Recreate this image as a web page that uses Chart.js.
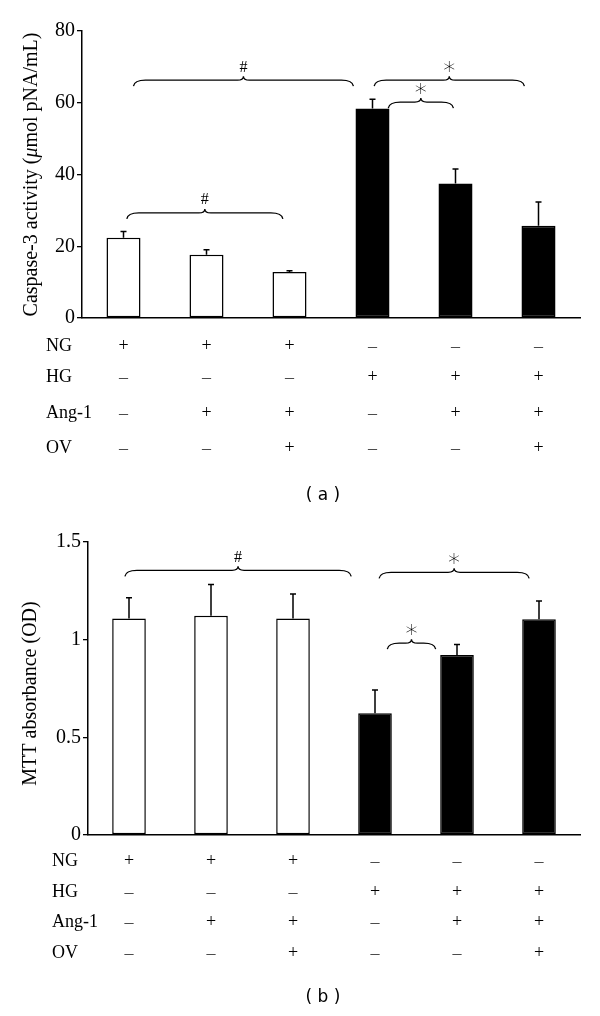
<!DOCTYPE html>
<html><head><meta charset="utf-8">
<script src="https://cdn.jsdelivr.net/npm/chart.js@4.4.0/dist/chart.umd.min.js"></script>
<style>
html,body{margin:0;padding:0;background:#fff;}
#wrap{position:relative;width:600px;height:1016px;overflow:hidden;background:#fff;}
canvas{position:absolute;left:0;}
</style></head><body>
<div id="wrap">
<canvas id="ca" width="600" height="520" style="top:0px"></canvas>
<canvas id="cb" width="600" height="496" style="top:520px"></canvas>
</div>
<script>
// ---------- data ----------
const categories = ['G1','G2','G3','G4','G5','G6'];
const caspaseValues = [22.4, 17.6, 12.8, 58.4, 37.5, 25.7];
const caspaseSD     = [1.7, 1.4, 0.4, 2.6, 4.0, 6.6];
const mttValues = [1.108, 1.122, 1.108, 0.623, 0.921, 1.105];
const mttSD     = [0.106, 0.161, 0.126, 0.119, 0.054, 0.093];
const caspaseTicks = [0, 20, 40, 60, 80];
const mttTicks = [0, 0.5, 1, 1.5];
const rowLabels = ['NG', 'HG', 'Ang-1', 'OV'];
const rowSigns = [
  ['+','+','+','\u2013','\u2013','\u2013'],
  ['\u2013','\u2013','\u2013','+','+','+'],
  ['\u2013','+','+','\u2013','+','+'],
  ['\u2013','\u2013','+','\u2013','\u2013','+']
];
// brace spans in category units, level in value units
const caspaseBraces = [
  {from: 0.04, to: 1.92, level: 29.3, mark: '#'},
  {from: 0.12, to: 2.77, level: 66.3, mark: '#'},
  {from: 3.19, to: 3.975, level: 60.2, mark: '*'},
  {from: 3.02, to: 4.83, level: 66.3, mark: '*'}
];
const mttBraces = [
  {from: -0.05, to: 2.71, level: 1.355, mark: '#'},
  {from: 3.05, to: 4.88, level: 1.345, mark: '*'},
  {from: 3.15, to: 3.74, level: 0.982, mark: '*'}
];
const caspaseTitle = [['Caspase-3 activity (', ''], ['\u03bc', 'italic '], ['mol pNA/mL)', '']];
const mttTitle = [['MTT absorbance (OD)', '']];

// ---------- helpers ----------
const SERIF = '"Liberation Serif", "Times New Roman", serif';
const barFill = rowSigns[1].map(s => s === '+' ? '#000' : '#fff');

function catX(xs, f) {
  const p0 = xs.getPixelForValue(0), p1 = xs.getPixelForValue(1);
  return p0 + f * (p1 - p0);
}
function drawBrace(ctx, x1, x2, y) {
  const xm = (x1 + x2) / 2, h1 = 6, h2 = 4, r = 12, r2 = 6;
  ctx.beginPath();
  ctx.moveTo(x1, y + h1);
  ctx.quadraticCurveTo(x1 + 1, y, x1 + r, y);
  ctx.lineTo(xm - r2, y);
  ctx.quadraticCurveTo(xm, y, xm, y - h2);
  ctx.quadraticCurveTo(xm, y, xm + r2, y);
  ctx.lineTo(x2 - r, y);
  ctx.quadraticCurveTo(x2 - 1, y, x2, y + h1);
  ctx.stroke();
}
function drawMark(ctx, mark, x, cy) {
  let txt;
  if (mark === '#') { ctx.font = '16px ' + SERIF; txt = '#'; }
  else { ctx.font = '200 24px "DejaVu Sans", sans-serif'; txt = '\u2217'; }
  const m = ctx.measureText(txt);
  const h = m.actualBoundingBoxAscent + m.actualBoundingBoxDescent;
  ctx.textAlign = 'center';
  ctx.textBaseline = 'alphabetic';
  ctx.fillText(txt, x, cy + h / 2 - m.actualBoundingBoxDescent);
}

function makeExtras(opt) {
  return {
    id: 'extras_' + opt.id,
    afterDatasetsDraw(chart) {
      const ctx = chart.ctx, xs = chart.scales.x, ys = chart.scales.y;
      const meta = chart.getDatasetMeta(0);
      ctx.save();
      ctx.strokeStyle = '#000'; ctx.fillStyle = '#000'; ctx.lineWidth = 1.5;
      // error bars
      opt.values.forEach((v, i) => {
        const bar = meta.data[i];
        const yt = ys.getPixelForValue(v), ye = ys.getPixelForValue(v + opt.sd[i]);
        ctx.beginPath();
        ctx.moveTo(bar.x, yt); ctx.lineTo(bar.x, ye);
        ctx.moveTo(bar.x - 3, ye); ctx.lineTo(bar.x + 3, ye);
        ctx.stroke();
      });
      // braces
      ctx.lineWidth = 1.3;
      opt.braces.forEach(b => {
        const x1 = catX(xs, b.from), x2 = catX(xs, b.to), y = ys.getPixelForValue(b.level);
        drawBrace(ctx, x1, x2, y);
        ctx.fillStyle = '#000';
        drawMark(ctx, b.mark, (x1 + x2) / 2, y - 14);
      });
      ctx.restore();
    },
    afterDraw(chart) {
      const ctx = chart.ctx, xs = chart.scales.x, area = chart.chartArea;
      ctx.save();
      ctx.fillStyle = '#000';
      // condition table
      ctx.font = '18px ' + SERIF;
      ctx.textBaseline = 'middle';
      rowLabels.forEach((lab, r) => {
        const y = area.bottom + opt.rowOffsets[r];
        ctx.textAlign = 'left';
        ctx.fillStyle = '#000';
        ctx.fillText(lab, opt.labelX, y);
        ctx.textAlign = 'center';
        rowSigns[r].forEach((s, i) => {
          ctx.fillStyle = s === '+' ? '#000' : '#444';
          ctx.fillText(s, xs.getPixelForValue(i), y + (s === '+' ? 0 : 1));
        });
      });
      // caption
      ctx.fillStyle = '#000';
      ctx.font = '17px "DejaVu Sans", sans-serif';
      ctx.textAlign = 'center';
      ctx.fillText(opt.caption, 323, opt.captionY);
      // y axis title (rotated, mixed style)
      ctx.translate(opt.titleX, (area.top + area.bottom) / 2 + opt.titleShift);
      ctx.rotate(-Math.PI / 2);
      let total = 0;
      opt.title.forEach(p => { ctx.font = p[1] + '20px ' + SERIF; total += ctx.measureText(p[0]).width; });
      let x = -total / 2;
      ctx.textAlign = 'left';
      ctx.textBaseline = 'middle';
      opt.title.forEach(p => { ctx.font = p[1] + '20px ' + SERIF; ctx.fillText(p[0], x, 0); x += ctx.measureText(p[0]).width; });
      ctx.restore();
    }
  };
}

function makeChart(el, opt) {
  return new Chart(document.getElementById(el), {
    type: 'bar',
    data: {
      labels: categories,
      datasets: [{
        data: opt.values,
        backgroundColor: barFill,
        borderColor: '#000',
        borderWidth: 1.5,
        borderSkipped: false,
        categoryPercentage: 1,
        barPercentage: 0.41
      }]
    },
    options: {
      responsive: false,
      animation: false,
      devicePixelRatio: 1,
      layout: { padding: opt.padding },
      plugins: { legend: { display: false }, tooltip: { enabled: false } },
      scales: {
        x: {
          ticks: { display: false },
          grid: { display: false, drawTicks: false },
          border: { display: true, color: '#000', width: 1.5 }
        },
        y: {
          min: opt.ticks[0], max: opt.ticks[opt.ticks.length - 1],
          afterBuildTicks: s => { s.ticks = opt.ticks.map(v => ({ value: v })); },
          afterFit: s => { s.width = opt.axisWidth; },
          ticks: { color: '#000', font: { family: SERIF, size: 20 }, padding: 2,
                   callback: v => String(v) },
          grid: { display: true, drawOnChartArea: false, drawTicks: true, tickLength: 5, color: '#000', lineWidth: 1.3 },
          border: { display: true, color: '#000', width: 1.5 }
        }
      }
    },
    plugins: [makeExtras(opt)]
  });
}

makeChart('ca', {
  id: 'a', values: caspaseValues, sd: caspaseSD, ticks: caspaseTicks, braces: caspaseBraces,
  padding: { left: 0, right: 20, top: 31, bottom: 202 }, axisWidth: 82,
  rowOffsets: [28, 59, 95, 130], labelX: 46, caption: '( a )', captionY: 496,
  title: caspaseTitle, titleX: 32, titleShift: 0
});
makeChart('cb', {
  id: 'b', values: mttValues, sd: mttSD, ticks: mttTicks, braces: mttBraces,
  padding: { left: 0, right: 20, top: 22, bottom: 181 }, axisWidth: 88,
  rowOffsets: [26, 57, 87, 118], labelX: 52, caption: '( b )', captionY: 478,
  title: mttTitle, titleX: 31, titleShift: 5
});
</script>
</body></html>
